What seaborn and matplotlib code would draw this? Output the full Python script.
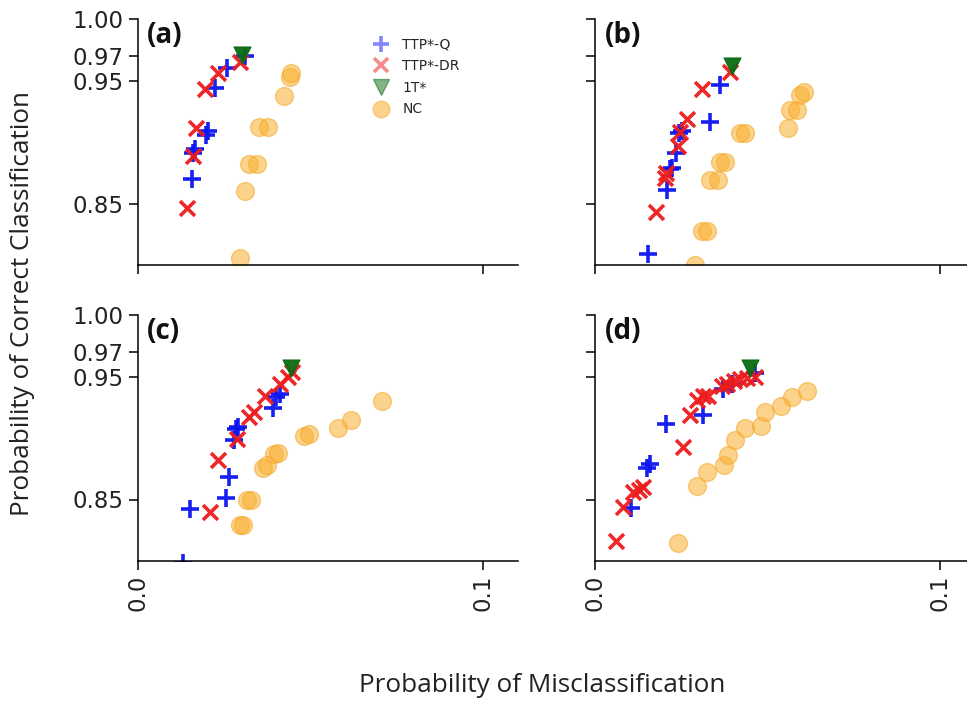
import matplotlib
matplotlib.use("Agg")
import matplotlib.pyplot as plt
from matplotlib.lines import Line2D
import numpy as np
import pandas as pd
import seaborn as sns

# Panels and series: one inner list per panel (a)-(d)
panels = ["(a)", "(b)", "(c)", "(d)"]

ttpq_x = [
    [0.0159, 0.0160, 0.0167, 0.0197, 0.0204, 0.0223, 0.0260, 0.0310],
    [0.0152, 0.0208, 0.0217, 0.0222, 0.0235, 0.0242, 0.0251, 0.0333, 0.0362],
    [0.0133, 0.0151, 0.0255, 0.0266, 0.0278, 0.0285, 0.0291, 0.0393, 0.0400, 0.0412],
    [0.0103, 0.0150, 0.0159, 0.0206, 0.0314, 0.0370, 0.0396, 0.0464],
]
ttpq_y = [
    [0.870, 0.891, 0.894, 0.906, 0.909, 0.944, 0.960, 0.970],
    [0.809, 0.861, 0.878, 0.879, 0.891, 0.907, 0.909, 0.916, 0.946],
    [0.798, 0.842, 0.851, 0.868, 0.898, 0.907, 0.909, 0.924, 0.933, 0.936],
    [0.843, 0.876, 0.879, 0.911, 0.919, 0.940, 0.944, 0.953],
]

ttpdr_x = [
    [0.0143, 0.0160, 0.0170, 0.0194, 0.0233, 0.0296],
    [0.0177, 0.0203, 0.0206, 0.0239, 0.0246, 0.0266, 0.0311, 0.0391],
    [0.0211, 0.0232, 0.0288, 0.0322, 0.0337, 0.0369, 0.0412, 0.0436, 0.0446],
    [0.0061, 0.0082, 0.0111, 0.0126, 0.0140, 0.0254, 0.0275, 0.0295, 0.0314,
     0.0328, 0.0367, 0.0382, 0.0401, 0.0420, 0.0440, 0.0464],
]
ttpdr_y = [
    [0.846, 0.889, 0.911, 0.943, 0.956, 0.965],
    [0.843, 0.871, 0.875, 0.897, 0.908, 0.919, 0.943, 0.957],
    [0.840, 0.882, 0.899, 0.917, 0.921, 0.934, 0.944, 0.950, 0.954],
    [0.816, 0.844, 0.856, 0.858, 0.860, 0.893, 0.919, 0.931, 0.934,
     0.934, 0.942, 0.944, 0.946, 0.948, 0.949, 0.950],
]

one_t_x = [[0.0303], [0.0396], [0.0444], [0.0449]]
one_t_y = [[0.971], [0.962], [0.957], [0.957]]

nc_x = [
    [0.0296, 0.0310, 0.0322, 0.0347, 0.0352, 0.0378, 0.0424, 0.0440, 0.0445],
    [0.0290, 0.0309, 0.0324, 0.0333, 0.0357, 0.0362, 0.0377, 0.0420, 0.0435,
     0.0560, 0.0565, 0.0585, 0.0594, 0.0604],
    [0.0296, 0.0305, 0.0318, 0.0328, 0.0364, 0.0374, 0.0396, 0.0407, 0.0483,
     0.0496, 0.0580, 0.0617, 0.0709],
    [0.0241, 0.0295, 0.0324, 0.0372, 0.0386, 0.0406, 0.0433, 0.0480, 0.0493,
     0.0538, 0.0570, 0.0615],
]
nc_y = [
    [0.806, 0.860, 0.882, 0.882, 0.912, 0.912, 0.937, 0.953, 0.956],
    [0.800, 0.828, 0.828, 0.869, 0.869, 0.884, 0.884, 0.907, 0.907,
     0.911, 0.926, 0.926, 0.938, 0.941],
    [0.829, 0.829, 0.850, 0.850, 0.876, 0.878, 0.887, 0.888, 0.902,
     0.903, 0.908, 0.915, 0.930],
    [0.815, 0.861, 0.872, 0.878, 0.886, 0.898, 0.908, 0.910, 0.921,
     0.926, 0.933, 0.938],
]

y_ticks = [0.85, 0.95, 0.97, 1.00]
y_tick_labels = ["0.85", "0.95", "0.97", "1.00"]
x_ticks = [0.0, 0.1]
x_tick_labels = ["0.0", "0.1"]

series = [
    ("TTP*-Q", ttpq_x, ttpq_y, dict(marker="+", color="#0a14f0", s=150, linewidth=2.6, alpha=0.95)),
    ("TTP*-DR", ttpdr_x, ttpdr_y, dict(marker="x", color="#ee1c1c", s=115, linewidth=2.6, alpha=0.95)),
    ("1T*", one_t_x, one_t_y, dict(marker="v", color="#0b6b12", s=150, linewidth=0.8, edgecolor="#0b6b12", alpha=0.95)),
    ("NC", nc_x, nc_y, dict(marker="o", color="#fbb030", s=165, linewidth=1.0, edgecolor="#f4a623", alpha=0.55)),
]

# Long-form table built from the arrays above
rows = []
for name, xs, ys, _ in series:
    for p, label in enumerate(panels):
        for xv, yv in zip(xs[p], ys[p]):
            rows.append({"panel": label, "method": name, "x": xv, "y": yv})
df = pd.DataFrame(rows)

sns.set_style("ticks")
plt.rcParams["font.family"] = ["DejaVu Sans"]

W, H = 967, 704
fig = plt.figure(figsize=(W / 100, H / 100), dpi=100)

ax_w, ax_h = 380, 246
lefts = [137.5, 595]
tops = [19, 315]
axes = []
for r in range(2):
    for c in range(2):
        ax = fig.add_axes([lefts[c] / W, 1 - (tops[r] + ax_h) / H, ax_w / W, ax_h / H])
        axes.append((ax, r, c))

for i, (ax, r, c) in enumerate(axes):
    label = panels[i]
    sub = df[df["panel"] == label]
    for name, _, _, kw in series:
        d = sub[sub["method"] == name]
        sns.scatterplot(data=d, x="x", y="y", ax=ax, legend=False, **kw)
    ax.set_xlim(0.0, 0.11)
    ax.set_ylim(0.80, 1.00)
    ax.set_yticks(y_ticks)
    ax.set_xticks(x_ticks)
    if c == 0:
        ax.set_yticklabels(y_tick_labels)
    else:
        ax.set_yticklabels([])
    if r == 1:
        ax.set_xticklabels(x_tick_labels, rotation=90)
    else:
        ax.set_xticklabels([])
    ax.set_xlabel("")
    ax.set_ylabel("")
    ax.tick_params(labelsize=16.5, length=6.5, width=1.1, color="black", labelcolor="#222222")
    for s in ["left", "bottom"]:
        ax.spines[s].set_linewidth(1.1)
        ax.spines[s].set_color("black")
    sns.despine(ax=ax)
    ax.text(0.025, 0.99, label, transform=ax.transAxes, ha="left", va="top",
            fontsize=20, fontweight="bold", family="Open Sans", color="#111111")

handles = [
    Line2D([], [], linestyle="none", marker="+", color="#0a14f0", markersize=11, markeredgewidth=2.6, alpha=0.5),
    Line2D([], [], linestyle="none", marker="x", color="#ee1c1c", markersize=10, markeredgewidth=2.6, alpha=0.5),
    Line2D([], [], linestyle="none", marker="v", color="#0b6b12", markersize=11, alpha=0.5),
    Line2D([], [], linestyle="none", marker="o", color="#fbb030", markersize=12, alpha=0.55),
]
fig.legend(handles, [s[0] for s in series], loc="upper left",
           bbox_to_anchor=(358 / W, 1 - 25 / H), bbox_transform=fig.transFigure,
           frameon=False, fontsize=10, handlelength=1.5, handletextpad=0.8,
           labelspacing=0.55, borderpad=0.4)

fig.text(542 / W, 1 - 685 / H, "Probability of Misclassification",
         ha="center", va="center", fontsize=18.8, family="Open Sans", color="#222222")
fig.text(23 / W, 1 - 303 / H, "Probability of Correct Classification",
         ha="center", va="center", rotation=90, fontsize=18.8, family="Open Sans", color="#222222")

fig.savefig("out.png", dpi=100)
